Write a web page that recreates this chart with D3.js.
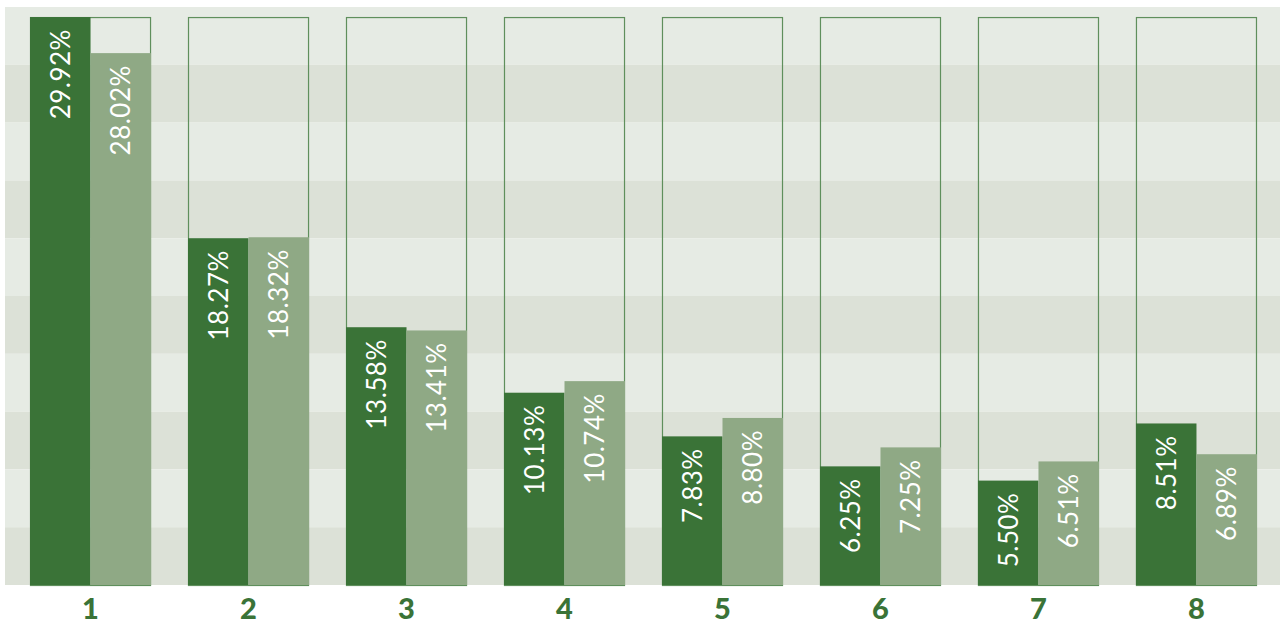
<!DOCTYPE html>
<html lang="en">
<head>
    <meta charset="UTF-8">
    <title>Grouped bars</title>
    <script src="https://d3js.org/d3.v7.min.js"></script>
    <style>
        body { margin: 0; background: #ffffff; }
    </style>
</head>
<body>

<!-- Create a div where the graph will be inserted -->
<div id="my_dataviz"></div>

<script>
    // Categories and the two series
    const groups = ["1", "2", "3", "4", "5", "6", "7", "8"];
    const seriesA = [29.92, 18.27, 13.58, 10.13, 7.83, 6.25, 5.50, 8.51];
    const seriesB = [28.02, 18.32, 13.41, 10.74, 8.80, 7.25, 6.51, 6.89];
    const boxMax = 29.92;   // outline boxes reach the largest value
    const yMax = 30.45;     // top of the plot background
    const nBands = 10;

    const W = 1281, H = 625;
    const margins = {top: 7, right: 1, bottom: 40, left: 5};

    const svg = d3.select("#my_dataviz")
        .append("svg")
            .attr("width", W)
            .attr("height", H);

    const x = d3.scaleBand()
        .domain(groups)
        .range([margins.left + 1, W])
        .paddingInner(0.234)
        .paddingOuter(0.152);

    const xSub = d3.scaleBand()
        .domain(["a", "b"])
        .range([0, x.bandwidth()]);

    const y = d3.scaleLinear()
        .domain([0, yMax])
        .range([H - margins.bottom, margins.top]);

    // striped background
    const bandEdges = d3.range(nBands + 1).map(i => yMax * i / nBands);
    svg.append("g")
        .selectAll("rect")
        .data(d3.range(nBands))
        .join("rect")
            .attr("x", margins.left)
            .attr("width", W - margins.right - margins.left)
            .attr("y", i => y(bandEdges[nBands - i]))
            .attr("height", i => y(bandEdges[nBands - i - 1]) - y(bandEdges[nBands - i]))
            .style("fill", i => i % 2 === 0 ? "#e6ebe4" : "#dce1d7");

    // outline boxes
    svg.append("g")
        .selectAll("rect")
        .data(groups)
        .join("rect")
            .attr("x", d => x(d) + 0.5)
            .attr("y", y(boxMax) + 0.5)
            .attr("width", x.bandwidth() - 1)
            .attr("height", y(0) - y(boxMax))
            .style("fill", "none")
            .style("stroke", "#5f8f5c")
            .style("stroke-width", 1.2);

    const rows = [];
    groups.forEach((g, i) => {
        rows.push({group: g, key: "a", value: seriesA[i]});
        rows.push({group: g, key: "b", value: seriesB[i]});
    });

    const colors = {a: "#3a7337", b: "#8fa985"};

    svg.append("g")
        .selectAll("rect")
        .data(rows)
        .join("rect")
            .attr("x", d => x(d.group) + xSub(d.key))
            .attr("y", d => y(d.value))
            .attr("width", xSub.bandwidth())
            .attr("height", d => y(0) - y(d.value))
            .style("fill", d => colors[d.key]);

    // rotated value labels
    svg.append("g")
        .selectAll("text")
        .data(rows)
        .join("text")
            .attr("transform", d => {
                const cx = x(d.group) + xSub(d.key) + xSub.bandwidth() / 2;
                return `translate(${cx},${y(d.value) + 12}) rotate(-90)`;
            })
            .attr("text-anchor", "end")
            .attr("dy", "0.36em")
            .style("font-family", "Lato, sans-serif")
            .style("font-size", "26px")
            .style("letter-spacing", "0.5px")
            .style("fill", "#ffffff")
            .text(d => d.value.toFixed(2) + "%");

    // category labels
    svg.append("g")
        .selectAll("text")
        .data(groups)
        .join("text")
            .attr("x", d => x(d) + x.bandwidth() / 2)
            .attr("y", 619)
            .attr("text-anchor", "middle")
            .style("font-family", "Lato, sans-serif")
            .style("font-weight", "900")
            .style("font-size", "29px")
            .style("fill", "#3a7337")
            .text(d => d);
</script>

</body>
</html>
